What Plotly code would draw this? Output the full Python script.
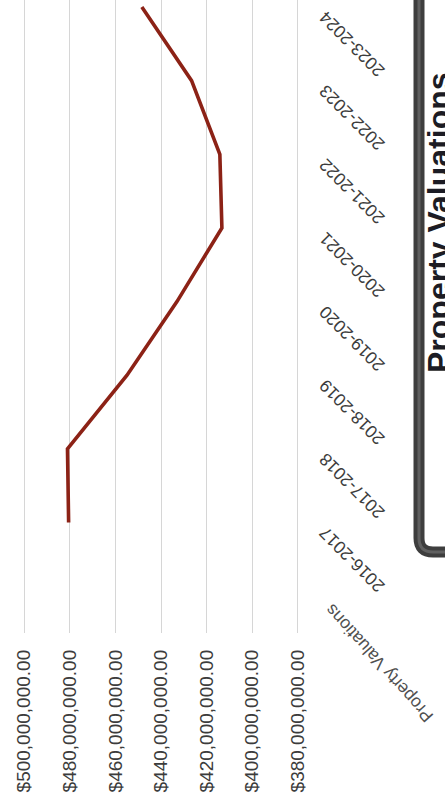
import plotly.graph_objects as go

# Property valuation by fiscal year
years = ["2016-2017", "2017-2018", "2018-2019", "2019-2020",
         "2020-2021", "2021-2022", "2022-2023", "2023-2024"]
valuations = [480.5e6, 481.0e6, 454.9e6, 433.0e6,
              413.3e6, 414.2e6, 426.6e6, 448.4e6]
value_ticks = [500e6, 480e6, 460e6, 440e6, 420e6, 400e6, 380e6]
series_name = "Property Valuations"

W, H = 445, 800
ML, MR, MT, MB = 23, 146, 0, 167
PW, PH = W - ML - MR, H - MT - MB


def px(x):
    return (x - ML) / PW


def py(y):
    return (H - MB - y) / PH


fig = go.Figure()
fig.add_trace(go.Scatter(
    x=valuations, y=years, mode="lines", name=series_name,
    line=dict(color="#8c2216", width=3.6),
    showlegend=False,
))

# small padding past 500M / 380M so the edge gridlines are drawn
fig.update_xaxes(
    range=[500.5e6, 379.5e6],
    tickvals=value_ticks,
    tickformat="$,.2f",
    tickangle=-90,
    showgrid=True, gridcolor="#d6d6d6", gridwidth=1.4,
    zeroline=False, showline=False,
    ticks="", ticklabelstandoff=12,
    tickfont=dict(family="Liberation Sans", size=19, color="#3c3c3c"),
)
fig.update_yaxes(
    type="category",
    categoryorder="array", categoryarray=years,
    range=[-1.5, 7.095],
    side="right",
    tickangle=-135,
    ticklabelposition="inside",
    ticklabelstandoff=-33,
    ticklabelshift=12,
    showgrid=False, zeroline=False, showline=False, ticks="",
    tickfont=dict(family="Liberation Sans", size=17.5, color="#3c3c3c"),
)

# Series caption below the category labels
fig.add_annotation(
    x=px(379), y=py(663), xref="paper", yref="paper",
    text=series_name, showarrow=False, textangle=-132,
    font=dict(family="Liberation Sans", size=17.5, color="#505050"),
    xanchor="center", yanchor="middle",
)

# Framed title panel on the right
r = 14
frame = (f"M {px(419)},{py(-20)} L {px(419)},{py(552 - r)} "
         f"Q {px(419)},{py(552)} {px(419 + r)},{py(552)} L {px(470)},{py(552)}")
fig.add_shape(type="path", path=frame, xref="paper", yref="paper",
              line=dict(color="#3e3e3e", width=11))
fig.add_shape(type="path", path=frame, xref="paper", yref="paper",
              line=dict(color="#606060", width=3))
fig.add_annotation(
    x=px(439), y=py(223), xref="paper", yref="paper",
    text="<b>Property Valuations</b>", showarrow=False, textangle=-90,
    font=dict(family="Liberation Sans", size=32, color="#1c1c24"),
    xanchor="center", yanchor="middle",
)

fig.update_layout(
    width=W, height=H,
    margin=dict(l=ML, r=MR, t=MT, b=MB),
    paper_bgcolor="white", plot_bgcolor="white",
)

fig.write_html("out.html")
